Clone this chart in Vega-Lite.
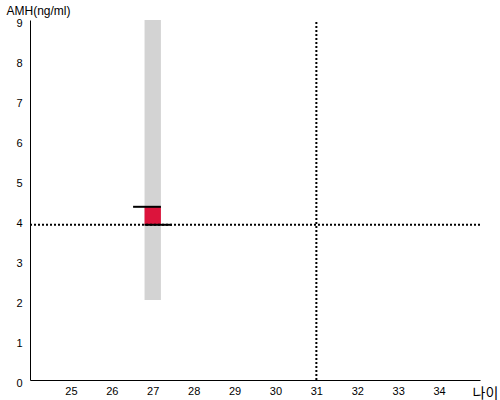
{
  "$schema": "https://vega.github.io/schema/vega-lite/v6.json",
  "width": 450,
  "height": 360,
  "autosize": "none",
  "padding": {"left": 30, "top": 20, "right": 20, "bottom": 20},
  "config": {
    "view": {"stroke": null},
    "axis": {
      "grid": false,
      "ticks": false,
      "domainColor": "black",
      "domainWidth": 1,
      "labelFont": "Liberation Sans",
      "labelFontSize": 11,
      "labelColor": "black",
      "titleColor": "black",
      "titleFontWeight": "normal"
    }
  },
  "datasets": {
    "band": [{"x": 26.8, "x2": 27.2, "y": 2, "y2": 9}],
    "box": [{"x": 26.8, "x2": 27.2, "y": 3.88, "y2": 4.33}],
    "caps": [
      {"x": 26.52, "x2": 27.2, "y": 4.33},
      {"x": 26.8, "x2": 27.47, "y": 3.88}
    ],
    "hline": [{"x": 24, "x2": 35, "y": 3.88}],
    "vline": [{"x": 31, "y": 0, "y2": 9}]
  },
  "layer": [
    {
      "data": {"name": "band"},
      "mark": {"type": "rect", "color": "#d3d3d3"},
      "encoding": {
        "x": {
          "field": "x", "type": "quantitative",
          "scale": {"domain": [24, 35], "nice": false, "zero": false},
          "axis": {
            "values": [25, 26, 27, 28, 29, 30, 31, 32, 33, 34],
            "labelPadding": 5,
            "labelOverlap": false,
            "labelFlush": false,
            "title": "나이",
            "titleFont": "Noto Sans CJK KR",
            "titleFontSize": 14,
            "titleAnchor": "start",
            "titleAlign": "left",
            "titleBaseline": "alphabetic",
            "titleX": 442,
            "titleY": 17
          }
        },
        "x2": {"field": "x2"},
        "y": {
          "field": "y", "type": "quantitative",
          "scale": {"domain": [0, 9], "nice": false},
          "axis": {
            "values": [0, 1, 2, 3, 4, 5, 6, 7, 8, 9],
            "tickCount": 10,
            "labelOverlap": false,
            "labelFlush": false,
            "labelPadding": 8,
            "labelOffset": 3,
            "title": "AMH(ng/ml)",
            "titleFont": "Liberation Sans",
            "titleFontSize": 12,
            "titleAngle": 0,
            "titleAlign": "left",
            "titleBaseline": "alphabetic",
            "titleX": -24,
            "titleY": -6
          }
        },
        "y2": {"field": "y2"}
      }
    },
    {
      "data": {"name": "box"},
      "mark": {"type": "rect", "color": "#dc143c"},
      "encoding": {
        "x": {"field": "x", "type": "quantitative"},
        "x2": {"field": "x2"},
        "y": {"field": "y", "type": "quantitative"},
        "y2": {"field": "y2"}
      }
    },
    {
      "data": {"name": "hline"},
      "mark": {"type": "rule", "color": "black", "strokeWidth": 2, "strokeDash": [2, 2]},
      "encoding": {
        "x": {"field": "x", "type": "quantitative"},
        "x2": {"field": "x2"},
        "y": {"field": "y", "type": "quantitative"}
      }
    },
    {
      "data": {"name": "vline"},
      "mark": {"type": "rule", "color": "black", "strokeWidth": 2, "strokeDash": [2, 2]},
      "encoding": {
        "x": {"field": "x", "type": "quantitative"},
        "y": {"field": "y", "type": "quantitative"},
        "y2": {"field": "y2"}
      }
    },
    {
      "data": {"name": "caps"},
      "mark": {"type": "rule", "color": "black", "strokeWidth": 2},
      "encoding": {
        "x": {"field": "x", "type": "quantitative"},
        "x2": {"field": "x2"},
        "y": {"field": "y", "type": "quantitative"}
      }
    }
  ]
}
